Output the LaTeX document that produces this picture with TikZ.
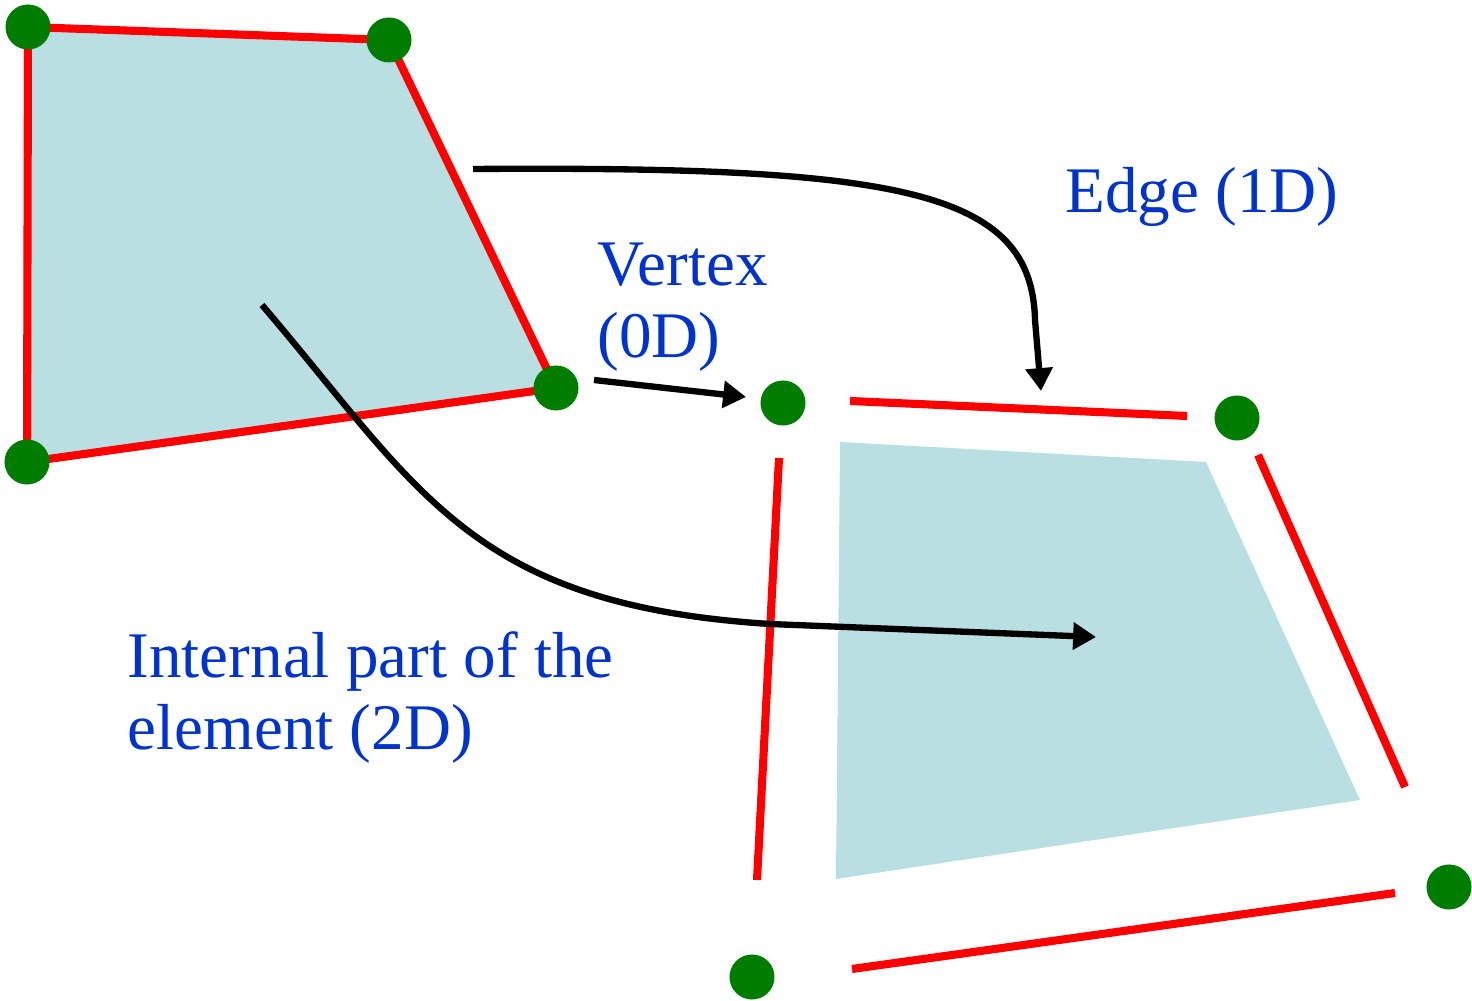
\documentclass[tikz,border=0pt]{standalone}
\usepackage{fontspec}
\setmainfont{Liberation Serif}
\usepackage{tikz}
\usetikzlibrary{arrows.meta}
\definecolor{vgreen}{RGB}{0,125,0}
\definecolor{ered}{RGB}{255,0,0}
\definecolor{facefill}{RGB}{185,223,226}
\definecolor{lblue}{RGB}{0,51,204}

\begin{document}
\begin{tikzpicture}[
  x=0.01cm, y=-0.01cm,
  vtx/.style={circle, fill=vgreen, inner sep=0pt, minimum size=0.45cm},
  edgeline/.style={draw=ered, line width=2.3pt},
  face/.style={fill=facefill},
  lbl/.style={text=lblue, font=\fontsize{18.5}{20.5}\selectfont, inner sep=0pt, align=left, anchor=base west},
  mapto/.style={draw=black, line width=1.8pt, -{Triangle[length=6.5pt,width=7.5pt]}}
]
\useasboundingbox (0,0) rectangle (1472,1001);
% left element
\path[face] (28,27) -- (389,40) -- (556,388) -- (27,462) -- cycle;
\draw[edgeline] (28,27) -- (389,40) -- (556,388) -- (27,462) -- cycle;
\node[vtx] (a1) at (28,27) {};
\node[vtx] (a2) at (389,40) {};
\node[vtx] (a3) at (556,388) {};
\node[vtx] (a4) at (27,462) {};
% right element, split into parts
\path[face] (840,442) -- (1206,462) -- (1360,800) -- (836,879) -- cycle;
\draw[edgeline] (850,401) -- (1187,416);
\draw[edgeline] (1258,455) -- (1405,787);
\draw[edgeline] (1395,893) -- (852,969);
\draw[edgeline] (779,458) -- (757,880);
\node[vtx] (b1) at (783,403) {};
\node[vtx] (b2) at (1237,418) {};
\node[vtx] (b3) at (1449,887) {};
\node[vtx] (b4) at (752,977) {};
% labels
\node[lbl] (edge) at (1065,213) {Edge (1D)};
\node[lbl] (vertex) at (597,358) {Vertex\\(0D)};
\node[lbl] (inner) at (127,750) {Internal part of the\\element (2D)};
% arrows
\coordinate (s1) at (594,380);
\coordinate (t1) at (746,397);
\coordinate (s2) at (473,169);
\coordinate (t2) at (1041,391);
\coordinate (s3) at (262,305);
\coordinate (t3) at (1096,637);
\draw[mapto] (s1) -- (t1);
\draw[mapto] (s2) .. controls (900,166) and (1032,190) .. (1035,320) -- (t2);
\draw[mapto] (s3) .. controls (420,490) and (470,605) .. (770,624) -- (t3);
\end{tikzpicture}
\end{document}
